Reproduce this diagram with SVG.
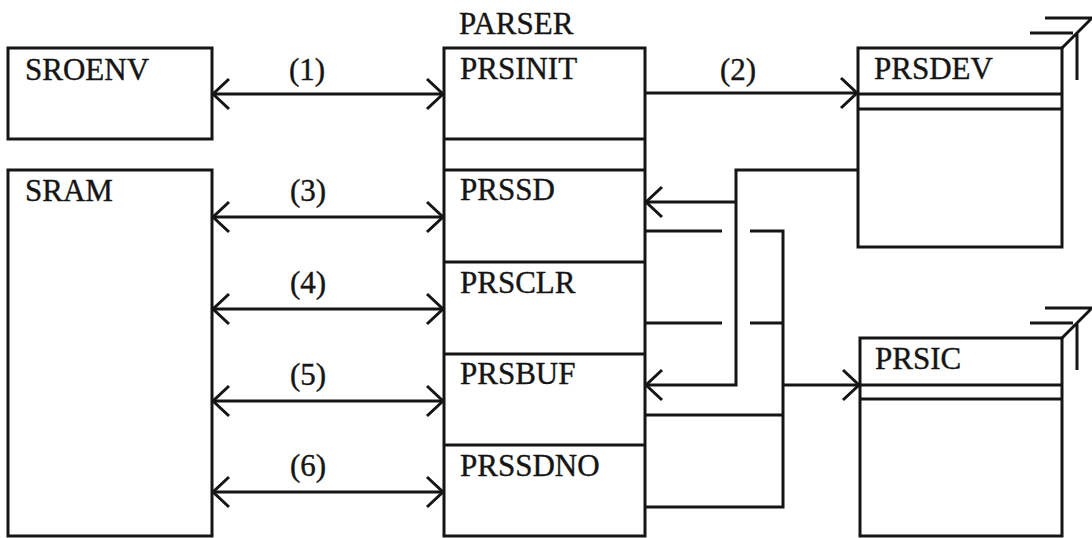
<svg xmlns="http://www.w3.org/2000/svg" width="1092" height="538" viewBox="0 0 1092 538">
<style>
.box{fill:none;stroke:#151515;stroke-width:3}
.ln{fill:none;stroke:#151515;stroke-width:3}
.t{font-family:"Liberation Serif","DejaVu Serif",serif;font-size:31px;fill:#151515;stroke:#151515;stroke-width:0.4}
.c{text-anchor:middle}
</style>
<defs>
<marker id="arr" markerUnits="userSpaceOnUse" markerWidth="22" markerHeight="36" viewBox="0 0 22 36" refX="19" refY="18" orient="auto-start-reverse">
<path d="M3 3 L19 18 L3 33" fill="none" stroke="#151515" stroke-width="3"/>
</marker>
</defs>
<rect x="0" y="0" width="1092" height="538" fill="#ffffff"/>
<g id="sroenv">
<rect class="box" x="8" y="48" width="204" height="91"/>
<text class="t" x="25" y="80">SROENV</text>
</g>
<g id="sram">
<rect class="box" x="8" y="170" width="204" height="366"/>
<text class="t" x="25" y="201">SRAM</text>
</g>
<g id="parser">
<text class="t" x="459" y="34">PARSER</text>
<rect class="box" x="444" y="48" width="201" height="488"/>
<path class="ln" d="M444 139 H645 M444 170 H645 M444 262 H645 M444 354 H645 M444 445 H645"/>
<text class="t" x="460" y="79">PRSINIT</text>
<text class="t" x="460" y="200">PRSSD</text>
<text class="t" x="460" y="293">PRSCLR</text>
<text class="t" x="460" y="384">PRSBUF</text>
<text class="t" x="460" y="476">PRSSDNO</text>
</g>
<g id="prsdev">
<rect class="box" x="858" y="48" width="204" height="199"/>
<path class="ln" d="M858 94 H1062 M858 109 H1062"/>
<text class="t" x="874" y="79">PRSDEV</text>
<path class="ln" d="M1045 18 H1092 M1030 33 H1073 M1062 48 L1091 19 M1077 33 V80"/>
</g>
<g id="prsic">
<rect class="box" x="860" y="338" width="202" height="198"/>
<path class="ln" d="M860 385 H1062 M860 399 H1062"/>
<text class="t" x="875" y="369">PRSIC</text>
<path class="ln" d="M1045 308 H1092 M1030 323 H1073 M1062 338 L1091 309 M1077 323 V370"/>
</g>
<g id="connectors">
<path class="ln" d="M213 94 H443" marker-start="url(#arr)" marker-end="url(#arr)"/>
<path class="ln" d="M213 217 H443" marker-start="url(#arr)" marker-end="url(#arr)"/>
<path class="ln" d="M213 309 H443" marker-start="url(#arr)" marker-end="url(#arr)"/>
<path class="ln" d="M213 401 H443" marker-start="url(#arr)" marker-end="url(#arr)"/>
<path class="ln" d="M213 492 H443" marker-start="url(#arr)" marker-end="url(#arr)"/>
<path class="ln" d="M645 93 H857" marker-end="url(#arr)"/>
<path class="ln" d="M858 170 H736 V385 H646" marker-end="url(#arr)"/>
<path class="ln" d="M736 202 H646" marker-end="url(#arr)"/>
<path class="ln" d="M645 231 H722 M750 231 H783 V507 H645"/>
<path class="ln" d="M645 323 H722 M750 323 H783"/>
<path class="ln" d="M645 415 H783"/>
<path class="ln" d="M783 385 H859" marker-end="url(#arr)"/>
</g>
<g id="labels">
<text class="t c" x="307" y="80">(1)</text>
<text class="t c" x="738" y="80">(2)</text>
<text class="t c" x="308" y="201">(3)</text>
<text class="t c" x="308" y="293">(4)</text>
<text class="t c" x="308" y="385">(5)</text>
<text class="t c" x="308" y="476">(6)</text>
</g>
</svg>
